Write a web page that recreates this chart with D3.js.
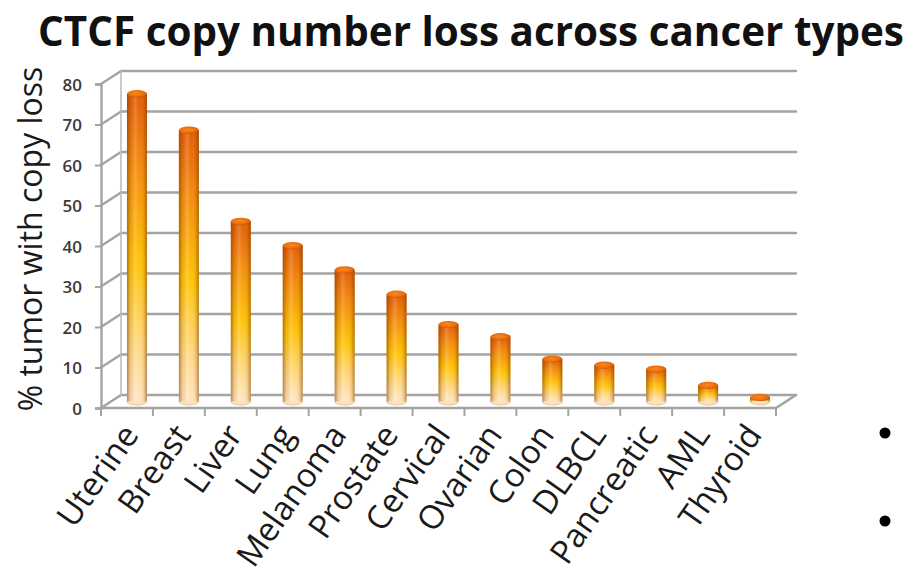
<!DOCTYPE html>
<html>
<head>
<meta charset="utf-8">
<script src="https://cdn.jsdelivr.net/npm/d3@7"></script>
<style>
  html, body { margin: 0; padding: 0; background: #fff; }
  svg { display: block; }
</style>
</head>
<body>
<svg id="chart" width="912" height="587"></svg>
<script>
// Share of tumours with CTCF copy-number loss, by cancer type
const categories = ["Uterine", "Breast", "Liver", "Lung", "Melanoma", "Prostate",
  "Cervical", "Ovarian", "Colon", "DLBCL", "Pancreatic", "AML", "Thyroid"];
const lossPercent = [76, 67, 44.5, 38.5, 32.5, 26.5, 19, 16, 10.5, 9, 8, 4, 1];
const yTicks = [0, 10, 20, 30, 40, 50, 60, 70, 80];
const titleText = "CTCF copy number loss across cancer types";
const yAxisTitle = "% tumor with copy loss";

const svg = d3.select("#chart");

// Pseudo-3D plot box: front plane plus a receding depth offset
const front = { left: 101, right: 776, bottom: 408, top: 84 };
const depth = { dx: 20, dy: -13 };

const x = d3.scaleBand().domain(categories).range([front.left, front.right]);
const y = d3.scaleLinear().domain([0, 80]).range([front.bottom, front.top]);

const defs = svg.append("defs");

// Vertical colour ramp of each cylinder: dark orange top, gold middle, pale base
const vGrad = defs.append("linearGradient").attr("id", "barV")
  .attr("x1", 0).attr("y1", 0).attr("x2", 0).attr("y2", 1);
[["0%", "#e25c08"], ["25%", "#f58d0c"], ["55%", "#ffc406"], ["80%", "#ffd77a"], ["100%", "#ffe6c4"]]
  .forEach(([o, c]) => vGrad.append("stop").attr("offset", o).attr("stop-color", c));

// Horizontal shading for the rounded look of the cylinder
const hGrad = defs.append("linearGradient").attr("id", "barH")
  .attr("x1", 0).attr("y1", 0).attr("x2", 1).attr("y2", 0);
[["0%", "#7a3a00", 0.55], ["18%", "#7a3a00", 0.12], ["40%", "#ffffff", 0.18],
 ["62%", "#ffffff", 0.0], ["85%", "#7a3a00", 0.15], ["100%", "#7a3a00", 0.55]]
  .forEach(([o, c, a]) => hGrad.append("stop").attr("offset", o)
    .attr("stop-color", c).attr("stop-opacity", a));

const capGrad = defs.append("radialGradient").attr("id", "barCap")
  .attr("cx", "45%").attr("cy", "45%").attr("r", "60%");
[["0%", "#f98a1c"], ["70%", "#ec6c0c"], ["100%", "#b44c00"]]
  .forEach(([o, c]) => capGrad.append("stop").attr("offset", o).attr("stop-color", c));

// Title, condensed horizontally to span the slide width
const titleWidth = 866, titleCenter = 471;
const titleG = svg.append("g");
const title = titleG.append("text")
  .attr("x", 0).attr("y", 0)
  .attr("text-anchor", "middle")
  .attr("font-family", "'Open Sans', sans-serif")
  .attr("font-weight", 700)
  .attr("font-size", 42)
  .attr("fill", "#111")
  .text(titleText);
const naturalWidth = title.node().getComputedTextLength();
titleG.attr("transform", `translate(${titleCenter},46) scale(${Math.min(1, titleWidth / naturalWidth)},1)`);

const gridColor = "#a3a3a3";
const walls = svg.append("g").attr("stroke", gridColor).attr("fill", "none")
  .attr("stroke-width", 2.4).attr("stroke-linecap", "round");

// Back-wall gridlines
walls.selectAll("line.grid").data(yTicks).join("line")
  .attr("class", "grid")
  .attr("x1", front.left + depth.dx).attr("x2", front.right + depth.dx)
  .attr("y1", d => y(d) + depth.dy).attr("y2", d => y(d) + depth.dy);

// Side-wall diagonals
walls.selectAll("line.side").data(yTicks).join("line")
  .attr("class", "side")
  .attr("x1", front.left).attr("x2", front.left + depth.dx)
  .attr("y1", d => y(d)).attr("y2", d => y(d) + depth.dy);

// Back-left vertical edge
walls.append("line")
  .attr("x1", front.left + depth.dx).attr("x2", front.left + depth.dx)
  .attr("y1", y(80) + depth.dy).attr("y2", y(0) + depth.dy)
  .attr("stroke-width", 1.6).attr("stroke", "#bdbdbd");

// Floor outline
walls.append("path")
  .attr("d", `M${front.left},${y(0)} L${front.right},${y(0)} L${front.right + depth.dx},${y(0) + depth.dy}`)
  .attr("stroke-width", 2.6);

// Front vertical axis with ticks
const axisG = svg.append("g").attr("transform", `translate(${front.left},0)`)
  .call(d3.axisLeft(y).tickValues(yTicks).tickSize(6).tickPadding(13).tickFormat(d3.format("d")));
axisG.select(".domain").attr("stroke", gridColor).attr("stroke-width", 2.4);
axisG.selectAll(".tick line").attr("stroke", gridColor).attr("stroke-width", 2);
axisG.selectAll(".tick text")
  .attr("font-family", "'Open Sans', sans-serif")
  .attr("font-size", 17).attr("font-weight", 600)
  .attr("fill", "#3a3a3a").attr("dy", "0.36em");

// Category boundary ticks under the floor
const bounds = categories.map(c => x(c)).concat([front.right]);
svg.append("g").selectAll("line").data(bounds).join("line")
  .attr("x1", d => d).attr("x2", d => d)
  .attr("y1", y(0)).attr("y2", y(0) + 8)
  .attr("stroke", gridColor).attr("stroke-width", 2);

// Cylindrical bars sit halfway into the depth of the box
const barW = 20, capRy = 3.6;
const bars = svg.append("g").selectAll("g.bar")
  .data(categories.map((c, i) => ({ cat: c, v: lossPercent[i] })))
  .join("g").attr("class", "bar");

const cx = d => x(d.cat) + x.bandwidth() / 2 + depth.dx / 2;
const yTop = d => y(d.v) + depth.dy / 2;
const yBase = y(0) + depth.dy / 2;

bars.append("ellipse")
  .attr("cx", cx).attr("cy", yBase).attr("rx", barW / 2).attr("ry", capRy)
  .attr("fill", "#ffe0b8");
bars.append("rect")
  .attr("x", d => cx(d) - barW / 2).attr("width", barW)
  .attr("y", yTop).attr("height", d => yBase - yTop(d))
  .attr("fill", "url(#barV)");
bars.append("rect")
  .attr("x", d => cx(d) - barW / 2).attr("width", barW)
  .attr("y", yTop).attr("height", d => yBase - yTop(d))
  .attr("fill", "url(#barH)");
bars.append("path")
  .attr("d", d => `M${cx(d) - barW / 2},${yBase} A${barW / 2},${capRy} 0 0 0 ${cx(d) + barW / 2},${yBase}`)
  .attr("fill", "none").attr("stroke", "#c9a070").attr("stroke-width", 0.8).attr("opacity", 0.6);
bars.append("ellipse")
  .attr("cx", cx).attr("cy", yTop).attr("rx", barW / 2).attr("ry", capRy)
  .attr("fill", "url(#barCap)");

// Rotated category labels
svg.append("g").selectAll("text").data(categories).join("text")
  .attr("transform", d => `translate(${x(d) + x.bandwidth() / 2 + 13},${y(0) + 27}) rotate(-55)`)
  .attr("text-anchor", "end")
  .attr("font-family", "'Open Sans', sans-serif")
  .attr("font-size", 33)
  .attr("fill", "#1a1a1a")
  .text(d => d);

// Y-axis title
svg.append("text")
  .attr("transform", `translate(42,239) rotate(-90)`)
  .attr("text-anchor", "middle")
  .attr("font-family", "'Open Sans', sans-serif")
  .attr("font-size", 32)
  .attr("fill", "#1a1a1a")
  .text(yAxisTitle);

// Slide bullets at the right margin
svg.append("g").selectAll("circle").data([433, 521]).join("circle")
  .attr("cx", 885).attr("cy", d => d).attr("r", 5.5).attr("fill", "#000");
</script>
</body>
</html>
